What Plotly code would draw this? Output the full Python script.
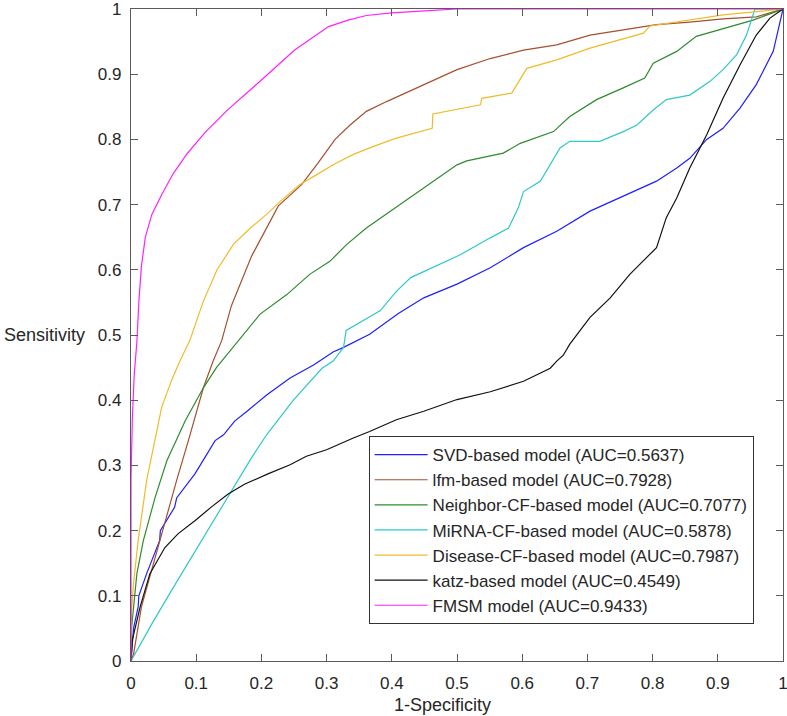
import plotly.graph_objects as go

# ---------------- data ----------------
series_names = [
    "SVD-based model (AUC=0.5637)",
    "lfm-based model (AUC=0.7928)",
    "Neighbor-CF-based model (AUC=0.7077)",
    "MiRNA-CF-based model (AUC=0.5878)",
    "Disease-CF-based model (AUC=0.7987)",
    "katz-based model (AUC=0.4549)",
    "FMSM model (AUC=0.9433)",
]

svd_x = [0, 0.002, 0.004, 0.011, 0.012, 0.024, 0.044, 0.045, 0.067, 0.07, 0.098, 0.106, 0.129, 0.142, 0.159,
         0.178, 0.208, 0.244, 0.28, 0.31, 0.326, 0.366, 0.41, 0.449, 0.5, 0.551, 0.602, 0.653, 0.704, 0.755,
         0.806, 0.837, 0.857, 0.883, 0.908, 0.934, 0.959, 0.985, 1]
svd_y = [0, 0.021, 0.051, 0.083, 0.1, 0.134, 0.185, 0.2, 0.236, 0.25, 0.287, 0.3, 0.338, 0.347, 0.368,
         0.383, 0.408, 0.434, 0.454, 0.474, 0.481, 0.501, 0.533, 0.557, 0.578, 0.603, 0.634, 0.659, 0.69, 0.713,
         0.736, 0.756, 0.771, 0.8, 0.817, 0.848, 0.884, 0.935, 1]

lfm_x = [0, 0.004, 0.016, 0.044, 0.07, 0.088, 0.111, 0.126, 0.139, 0.154, 0.185, 0.226, 0.262, 0.287, 0.313,
         0.336, 0.361, 0.392, 0.449, 0.5, 0.551, 0.602, 0.653, 0.704, 0.755, 0.806, 0.857, 0.908, 0.959, 1]
lfm_y = [0, 0.011, 0.083, 0.185, 0.277, 0.338, 0.419, 0.46, 0.491, 0.545, 0.621, 0.698, 0.731, 0.764, 0.8,
         0.822, 0.843, 0.858, 0.884, 0.907, 0.924, 0.937, 0.945, 0.96, 0.968, 0.976, 0.98, 0.985, 0.988, 1]

ncf_x = [0, 0.001, 0.009, 0.019, 0.037, 0.055, 0.083, 0.111, 0.131, 0.164, 0.198, 0.239, 0.274, 0.305, 0.331,
         0.361, 0.398, 0.449, 0.485, 0.5, 0.515, 0.571, 0.597, 0.648, 0.673, 0.714, 0.755, 0.788, 0.801, 0.837,
         0.867, 0.908, 0.954, 1]
ncf_y = [0, 0.052, 0.134, 0.185, 0.251, 0.307, 0.368, 0.419, 0.45, 0.491, 0.532, 0.562, 0.593, 0.613, 0.639,
         0.664, 0.69, 0.726, 0.751, 0.761, 0.767, 0.779, 0.794, 0.812, 0.835, 0.861, 0.879, 0.894, 0.917, 0.935,
         0.958, 0.97, 0.983, 1]

mcf_x = [0, 0.032, 0.062, 0.093, 0.123, 0.154, 0.185, 0.208, 0.249, 0.293, 0.31, 0.326, 0.33, 0.382, 0.407,
         0.429, 0.474, 0.505, 0.551, 0.579, 0.594, 0.602, 0.628, 0.658, 0.673, 0.719, 0.755, 0.776, 0.801, 0.821,
         0.857, 0.888, 0.908, 0.929, 0.944, 0.957, 1]
mcf_y = [0, 0.057, 0.108, 0.159, 0.21, 0.261, 0.312, 0.347, 0.4, 0.449, 0.46, 0.481, 0.507, 0.537, 0.567,
         0.588, 0.608, 0.623, 0.649, 0.664, 0.695, 0.72, 0.736, 0.787, 0.797, 0.797, 0.812, 0.822, 0.845, 0.861,
         0.868, 0.889, 0.907, 0.93, 0.96, 1.0, 1]

dcf_x = [0, 0.001, 0.004, 0.011, 0.024, 0.037, 0.047, 0.062, 0.075, 0.09, 0.111, 0.132, 0.157, 0.183, 0.208,
         0.229, 0.259, 0.285, 0.31, 0.341, 0.371, 0.407, 0.462, 0.463, 0.536, 0.538, 0.584, 0.607, 0.653, 0.704,
         0.786, 0.796, 0.857, 0.908, 0.959, 1]
dcf_y = [0, 0.08, 0.12, 0.185, 0.277, 0.338, 0.389, 0.43, 0.46, 0.491, 0.552, 0.6, 0.639, 0.664, 0.685,
         0.705, 0.731, 0.746, 0.761, 0.777, 0.789, 0.802, 0.817, 0.839, 0.853, 0.863, 0.871, 0.909, 0.922, 0.94,
         0.963, 0.974, 0.983, 0.991, 0.996, 1]

katz_x = [0, 0.002, 0.014, 0.029, 0.052, 0.072, 0.098, 0.123, 0.149, 0.174, 0.21, 0.244, 0.269, 0.3, 0.341,
          0.366, 0.407, 0.449, 0.5, 0.551, 0.602, 0.643, 0.653, 0.663, 0.673, 0.704, 0.735, 0.765, 0.806, 0.821,
          0.837, 0.857, 0.883, 0.908, 0.934, 0.959, 0.98, 1]
katz_y = [0, 0.032, 0.083, 0.134, 0.174, 0.195, 0.215, 0.236, 0.256, 0.271, 0.287, 0.301, 0.314, 0.324, 0.342,
          0.352, 0.37, 0.383, 0.401, 0.413, 0.429, 0.449, 0.46, 0.469, 0.486, 0.527, 0.557, 0.593, 0.634, 0.68,
          0.71, 0.756, 0.807, 0.863, 0.914, 0.96, 0.986, 1]

fmsm_x = [0, 0, 0.002, 0.005, 0.009, 0.012, 0.016, 0.022, 0.032, 0.047, 0.065, 0.086, 0.113, 0.149, 0.2,
          0.251, 0.303, 0.333, 0.361, 0.4, 0.45, 0.5, 1]
fmsm_y = [0, 0.277, 0.37, 0.44, 0.489, 0.55, 0.606, 0.65, 0.685, 0.715, 0.748, 0.778, 0.81, 0.846, 0.891,
          0.937, 0.973, 0.983, 0.99, 0.994, 0.997, 1, 1]

tick_vals = [0, 0.1, 0.2, 0.3, 0.4, 0.5, 0.6, 0.7, 0.8, 0.9, 1]
tick_text = ["0", "0.1", "0.2", "0.3", "0.4", "0.5", "0.6", "0.7", "0.8", "0.9", "1"]

xs = [svd_x, lfm_x, ncf_x, mcf_x, dcf_x, katz_x, fmsm_x]
ys = [svd_y, lfm_y, ncf_y, mcf_y, dcf_y, katz_y, fmsm_y]
colors = ["#1f1fff", "#a5502f", "#2e8b2e", "#2ec8c8", "#f0bb2a", "#111111", "#ff22ff"]

FONT = "Liberation Sans, Arial, Helvetica, sans-serif"
TXT = "#262626"
AX = "#5a5a5a"

fig = go.Figure()
for name, x, y, c in zip(series_names, xs, ys, colors):
    fig.add_trace(go.Scatter(x=x, y=y, mode="lines", name=name,
                             line=dict(color=c, width=1.2)))

axis_common = dict(
    range=[0, 1], tickvals=tick_vals, ticktext=tick_text,
    ticks="inside", ticklen=7, tickwidth=1, tickcolor=AX,
    showline=True, linecolor=AX, linewidth=1.3, mirror="allticks",
    showgrid=False, zeroline=False, ticklabeloverflow="allow",
    tickfont=dict(family=FONT, size=17, color=TXT),
)
fig.update_xaxes(**axis_common, ticklabelstandoff=6)
fig.update_yaxes(**axis_common, ticklabelstandoff=5)

fig.update_layout(
    width=787, height=716,
    margin=dict(l=131, r=4, t=9, b=55, autoexpand=False),
    paper_bgcolor="white", plot_bgcolor="white",
    showlegend=True,
    legend=dict(x=0.6597, y=0.0566, xanchor="center", yanchor="bottom",
                bgcolor="white", bordercolor="#333333", borderwidth=1,
                font=dict(family=FONT, size=17, color=TXT),
                itemwidth=53, tracegroupgap=0),
    annotations=[
        dict(text="Sensitivity", xref="paper", yref="paper", x=-0.198, y=0.5,
             xanchor="left", yanchor="middle", showarrow=False,
             font=dict(family=FONT, size=18, color=TXT)),
        dict(text="1-Specificity", xref="paper", yref="paper", x=0.477, y=-0.0673,
             xanchor="center", yanchor="middle", showarrow=False,
             font=dict(family=FONT, size=18, color=TXT)),
    ],
)

fig.write_html("out.html", config={"displayModeBar": False},
               post_script="document.body.style.margin='0';document.body.style.overflow='hidden';")
